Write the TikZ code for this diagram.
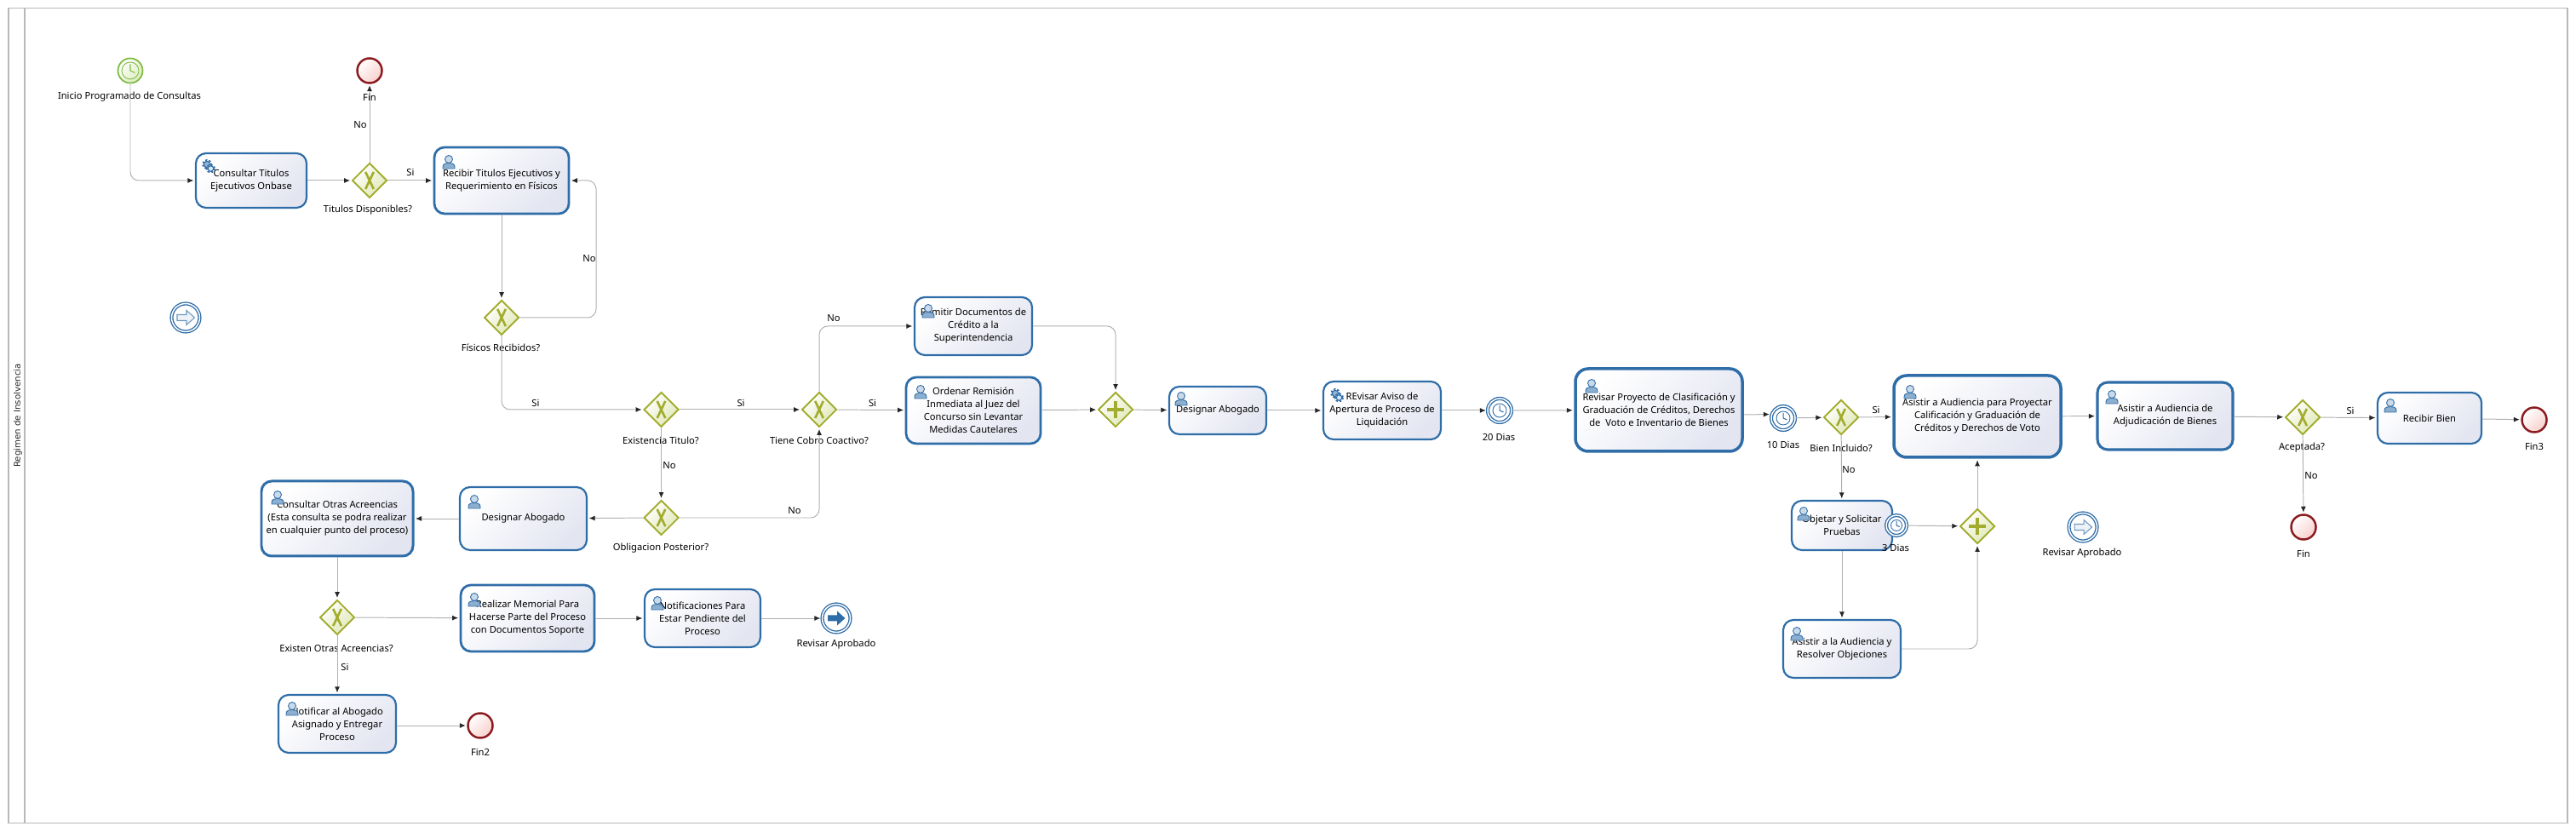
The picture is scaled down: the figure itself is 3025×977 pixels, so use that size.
\documentclass[tikz,border=0pt]{standalone}
\usepackage{fontspec}
\setmainfont{Noto Sans}
\newfontfamily\poolfont{DejaVu Sans}
\usetikzlibrary{arrows.meta, shapes.geometric}

\definecolor{taskblue}{HTML}{2F6DA8}
\definecolor{taskfill}{HTML}{E3E5F1}
\definecolor{gateline}{HTML}{A2AD2E}
\definecolor{gatefill}{HTML}{DFE8B6}
\definecolor{startline}{HTML}{7DBB42}
\definecolor{startfill}{HTML}{DDEBBF}
\definecolor{endline}{HTML}{8B1A1F}
\definecolor{endfill}{HTML}{F8D0CC}
\definecolor{flowgray}{HTML}{B0B0B0}
\definecolor{poolgray}{HTML}{B8B8B8}

\tikzset{
    task/.style 2 args={rounded corners=.12cm, draw=taskblue, line width=.62pt, inner sep=0pt, align=center,
        top color=white, bottom color=taskfill, shading angle=45, minimum width=#1*.01cm, minimum height=#2*.01cm, font=\tasktext},
    bigtask/.style={line width=1pt, rounded corners=.15cm},
    gate/.style={diamond, aspect=1, draw=gateline, line width=.55pt, inner sep=0pt, minimum width=.41cm, minimum height=.41cm,
        top color=white, bottom color=gatefill, shading angle=45},
    xgate/.style={gate, path picture={
        \draw[gateline, line width=.75pt] ([xshift=-.048cm, yshift=.1cm]path picture bounding box.center) -- ([xshift=.048cm, yshift=-.1cm]path picture bounding box.center);
        \draw[gateline, line width=.75pt] ([xshift=.048cm, yshift=.1cm]path picture bounding box.center) -- ([xshift=-.048cm, yshift=-.1cm]path picture bounding box.center);}},
    plusgate/.style={gate, path picture={
        \draw[gateline, line width=1.1pt] ([yshift=.1cm]path picture bounding box.center) -- ([yshift=-.1cm]path picture bounding box.center);
        \draw[gateline, line width=1.1pt] ([xshift=-.1cm]path picture bounding box.center) -- ([xshift=.1cm]path picture bounding box.center);}},
    startev/.style={circle, draw=startline, line width=.5pt, inner sep=0pt, minimum size=.29cm, top color=white, bottom color=startfill, shading angle=45},
    endev/.style={circle, draw=endline, line width=.7pt, inner sep=0pt, minimum size=.29cm, top color=white, bottom color=endfill, shading angle=45},
    ringev/.style={circle, draw=taskblue, double=white, double distance=.42pt, line width=.38pt, inner sep=0pt, minimum size=#1*.01cm},
    lbl/.style={inner sep=0pt, font=\tasktext},
    flow/.style={flowgray, line width=.28pt, shorten >=.015cm, -{Latex[length=.07cm, width=.06cm, black!85]}},
    turn/.style={rounded corners=.1cm},
    usericon/.pic={
        \draw[taskblue, line width=.25pt, fill=taskblue!55] (-7,8) -- (-7,6) .. controls (-7,2) and (-3,1.5) .. (0,1.5) .. controls (3,1.5) and (7,2) .. (7,6) -- (7,8) -- cycle;
        \draw[taskblue, line width=.25pt, fill=taskblue!25] (0,-3) circle (4.5);
    },
    gearicon/.pic={
        \draw[taskblue, line width=.8pt, dash pattern=on .55pt off .55pt] (-2,-2) circle (4.6);
        \draw[taskblue, line width=.3pt, fill=taskblue!50] (-2,-2) circle (3.6);
        \draw[taskblue, line width=.8pt, dash pattern=on .55pt off .55pt, fill=white] (2.5,3) circle (4.2);
        \draw[taskblue, line width=.3pt, fill=taskblue!15] (2.5,3) circle (3.2);
    },
    clockicon/.pic={
        \draw[line width=.25pt] (0,0) circle (#1);
        \draw[line width=.3pt] (0,-0.75*#1) -- (0,0) -- (0.55*#1,0.25*#1);
    },
    linkarrow/.pic={
        \path[pic actions] (-10,-3.5) -- (1,-3.5) -- (1,-8.5) -- (10.5,0) -- (1,8.5) -- (1,3.5) -- (-10,3.5) -- cycle;
    }
}
\newcommand{\tasktext}{\fontsize{3.18pt}{4.27pt}\selectfont}

\begin{document}
\begin{tikzpicture}[x=.01cm, y=-.01cm]
            \useasboundingbox (0,0) rectangle (3025,977);
            \node[draw=poolgray, line width=.4pt, minimum width=30.03cm, minimum height=9.56cm, inner sep=0pt] at (1512.5,488) (pool) {};
            \draw[poolgray, line width=.4pt] (pool.north west) ++(19.5,0) coordinate (poolhead) -- (poolhead |- pool.south);
            \node[inner sep=0pt, rotate=90, text=black!85] at (21,488) (poolname) {\poolfont\fontsize{2.9pt}{3.5pt}\selectfont Regimen de Insolvencia};

            \node[startev] at (153,83) (inicio) {};
            \node[lbl] at (152,114) (iniciolbl) {Inicio Programado de Consultas};
            \node[endev] at (434,83) (fina) {};
            \node[lbl] at (434,114) (finalbl) {Fin};
            \node[task={130}{64}] at (295,212) (consultar) {Consultar Titulos\\Ejecutivos Onbase};
            \node[xgate] at (434,212) (disponibles) {};
            \node[lbl] at (432,247) (disponibleslbl) {Titulos Disponibles?};
            \node[task={158}{78}, line width=.78pt] at (589,212) (recibir) {Recibir Titulos Ejecutivos y\\Requerimiento en Físicos};
            \node[xgate] at (589,373) (fisicos) {};
            \node[lbl] at (588,408) (fisicoslbl) {Físicos Recibidos?};
            \node[ringev=33] at (218,373) (vinculoa) {};

            \node[xgate] at (776.5,481) (existencia) {};
            \node[lbl] at (776,517) (existencialbl) {Existencia Titulo?};
            \node[xgate] at (962,481) (cobro) {};
            \node[lbl] at (962,517) (cobrolbl) {Tiene Cobro Coactivo?};
            \node[task={138}{68}] at (1143,383) (remitir) {Remitir Documentos de\\Crédito a la\\Superintendencia};
            \node[task={158}{78}, line width=.78pt] at (1143,482) (ordenar) {Ordenar Remisión\\Inmediata al Juez del\\Concurso sin Levantar\\Medidas Cautelares};
            \node[plusgate] at (1310,481) (unir) {};
            \node[xgate] at (776.5,608) (obligacion) {};
            \node[lbl] at (776,644) (obligacionlbl) {Obligacion Posterior?};
            \node[task={149}{74}] at (614.5,609) (designara) {Designar Abogado};
            \node[task={178}{88}, line width=.85pt] at (396,609) (otras) {Consultar Otras Acreencias\\(Esta consulta se podra realizar\\en cualquier punto del proceso)};
            \node[xgate] at (396,725) (existen) {};
            \node[lbl] at (395,761) (existenlbl) {Existen Otras Acreencias?};
            \node[task={157}{78}, line width=.78pt] at (619.5,726) (memorial) {Realizar Memorial Para\\Hacerse Parte del Proceso\\con Documentos Soporte};
            \node[task={136}{68}] at (825,726) (pendiente) {Notificaciones Para\\Estar Pendiente del\\Proceso};
            \node[ringev=33] at (982,726) (aprobadoa) {};
            \node[lbl] at (982,757) (aprobadoalbl) {Revisar Aprobado};
            \node[task={138}{68}] at (396,850) (notificar) {Notificar al Abogado\\Asignado y Entregar\\Proceso};
            \node[endev] at (564,852) (finb) {};
            \node[lbl] at (564,883) (finblbl) {Fin2};

            \node[task={114}{56}] at (1430,482) (designarb) {Designar Abogado};
            \node[task={138}{68}] at (1623,482) (aviso) {REvisar Aviso de\\Apertura de Proceso de\\Liquidación};
            \node[ringev=28] at (1761,482) (veinte) {};
            \node[lbl] at (1760,513) (veintelbl) {20 Dias};
            \node[task={196}{97}, bigtask] at (1948,481.5) (proyecto) {Revisar Proyecto de Clasificación y\\Graduación de Créditos, Derechos\\de \ Voto e Inventario de Bienes};
            \node[ringev=28] at (2094,491) (diez) {};
            \node[lbl] at (2094,522) (diezlbl) {10 Dias};
            \node[xgate] at (2162,490) (incluido) {};
            \node[lbl] at (2162,526) (incluidolbl) {Bien Incluido?};
            \node[task={196}{96}, bigtask] at (2322,489) (proyectar) {Asistir a Audiencia para Proyectar\\Calificación y Graduación de\\Créditos y Derechos de Voto};
            \node[task={159}{79}, line width=.88pt] at (2542.5,488.5) (adjudica) {Asistir a Audiencia de\\Adjudicación de Bienes};
            \node[xgate] at (2704,490) (aceptada) {};
            \node[lbl] at (2703,526) (aceptadalbl) {Aceptada?};
            \node[task={122}{60}] at (2853,491) (bien) {Recibir Bien};
            \node[endev] at (2976,493) (finc) {};
            \node[lbl] at (2976,524) (finclbl) {Fin3};
            \node[endev] at (2705,619) (find) {};
            \node[lbl] at (2705,650) (findlbl) {Fin};
            \node[task={118}{58}] at (2163,617) (objetar) {Objetar y Solicitar\\Pruebas};
            \node[ringev=24, fill=white] at (2227,617) (tres) {};
            \node[lbl] at (2226,643) (treslbl) {3 Dias};
            \node[plusgate] at (2322,618) (juntar) {};
            \node[task={138}{68}] at (2163,762) (resolver) {Asistir a la Audiencia y\\Resolver Objeciones};
            \node[ringev=33] at (2446,619) (vinculob) {};
            \node[lbl] at (2445,650) (vinculoblbl) {Revisar Aprobado};

            \pic[startline] at (inicio) {clockicon=10};
            \pic[taskblue] at (veinte) {clockicon=8};
            \pic[taskblue] at (diez) {clockicon=8};
            \pic[taskblue] at (tres) {clockicon=6.5};
            \pic[draw=taskblue!70, line width=.3pt, fill=taskblue!8] at (vinculoa) {linkarrow};
            \pic[draw=taskblue!70, line width=.3pt, fill=taskblue!8] at (vinculob) {linkarrow};
            \pic[fill=taskblue] at (aprobadoa) {linkarrow};

            \pic at (245,195) {gearicon};
            \pic at (1570,464) {gearicon};
            \pic at (527,190) {usericon};
            \pic at (1090,365) {usericon};
            \pic at (1081,460) {usericon};
            \pic at (557,589) {usericon};
            \pic at (326,584) {usericon};
            \pic at (557,704) {usericon};
            \pic at (772,708) {usericon};
            \pic at (343,832) {usericon};
            \pic at (1387,468) {usericon};
            \pic at (1869,453) {usericon};
            \pic at (2243,460) {usericon};
            \pic at (2480,466) {usericon};
            \pic at (2807,476) {usericon};
            \pic at (2118,603) {usericon};
            \pic at (2110,744) {usericon};

            \coordinate (bucle) at (700,290);

            \draw[flow, turn] (inicio.south) |- (consultar.west);
            \draw[flow] (consultar) -- (disponibles);
            \draw[flow] (disponibles) -- (fina);
            \draw[flow] (disponibles) -- (recibir);
            \draw[flow] (recibir) -- (fisicos);
            \draw[flow, turn] (fisicos.east) -| (bucle) |- (recibir.east);
            \draw[flow, turn] (fisicos.south) |- (existencia.west);
            \draw[flow] (existencia) -- (cobro);
            \draw[flow] (cobro) -- (ordenar);
            \draw[flow, turn] (cobro.north) |- (remitir.west);
            \draw[flow] (existencia) -- (obligacion);
            \draw[flow, turn] (obligacion.east) -| (cobro.south);
            \draw[flow] (obligacion) -- (designara);
            \draw[flow] (designara) -- (otras);
            \draw[flow] (otras) -- (existen);
            \draw[flow] (existen) -- (memorial);
            \draw[flow] (existen) -- (notificar);
            \draw[flow] (memorial) -- (pendiente);
            \draw[flow] (pendiente) -- (aprobadoa);
            \draw[flow] (notificar.east |- finb) -- (finb);
            \draw[flow] (ordenar) -- (unir);
            \draw[flow, turn] (remitir.east) -| (unir.north);
            \draw[flow] (unir) -- (designarb);
            \draw[flow] (designarb) -- (aviso);
            \draw[flow] (aviso) -- (veinte);
            \draw[flow] (veinte) -- (proyecto);
            \draw[flow] ([yshift=-.055cm]proyecto.east) -- ([yshift=.045cm]diez.west);
            \draw[flow] (diez) -- (incluido);
            \draw[flow] (incluido) -- (proyectar);
            \draw[flow] (proyectar) -- (adjudica);
            \draw[flow] (adjudica) -- (aceptada);
            \draw[flow] (aceptada) -- (bien);
            \draw[flow] (bien) -- (finc);
            \draw[flow] (aceptada) -- (find);
            \draw[flow] (incluido) -- (objetar);
            \draw[flow] (objetar) -- (resolver);
            \draw[flow] (tres) -- (juntar);
            \draw[flow, turn] (resolver.east) -| (juntar.south);
            \draw[flow] (juntar) -- (proyectar);

            \node[lbl] at (423,147) (disponiblesno) {No};
            \node[lbl] at (482,202) (disponiblessi) {Si};
            \node[lbl] at (692,304) (fisicosno) {No};
            \node[lbl] at (629,473) (fisicossi) {Si};
            \node[lbl] at (870,473) (existenciasi) {Si};
            \node[lbl] at (786,547) (existenciano) {No};
            \node[lbl] at (1024.5,473) (cobrosi) {Si};
            \node[lbl] at (979,374) (cobrono) {No};
            \node[lbl] at (933,600) (obligacionno) {No};
            \node[lbl] at (405,783) (existensi) {Si};
            \node[lbl] at (2203,481) (incluidosi) {Si};
            \node[lbl] at (2171,552) (incluidono) {No};
            \node[lbl] at (2760,482) (aceptadasi) {Si};
            \node[lbl] at (2714,559) (aceptadano) {No};
        \end{tikzpicture}
\end{document}
